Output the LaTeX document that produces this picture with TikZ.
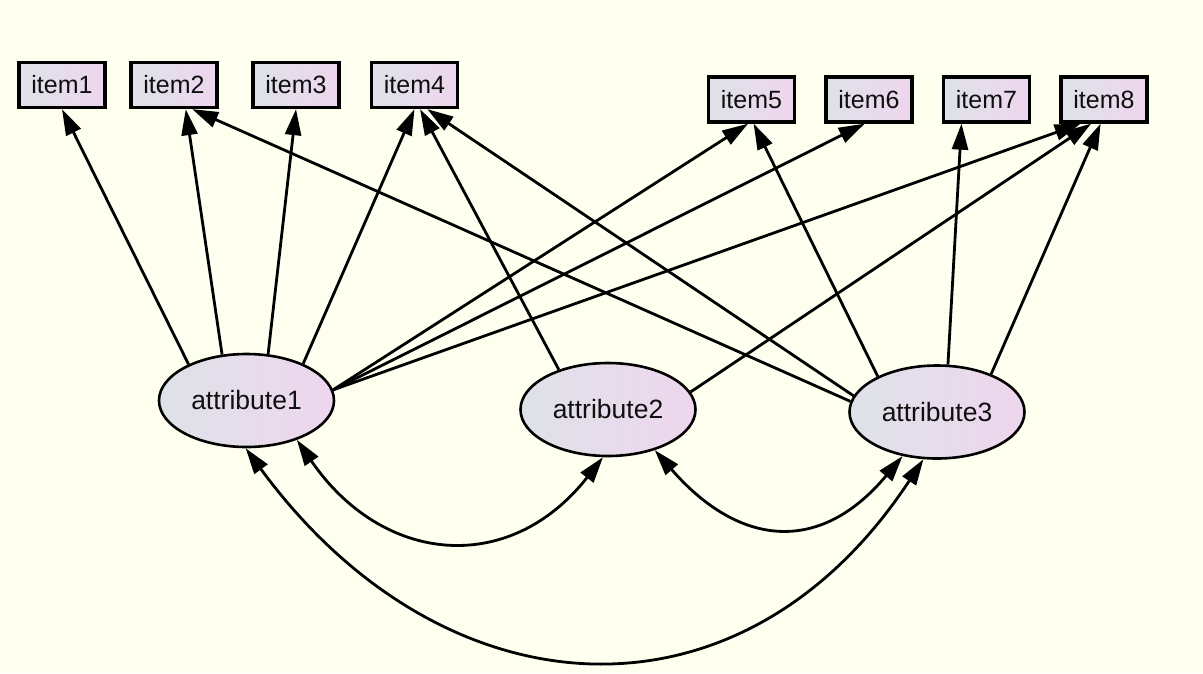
\documentclass[tikz,border=0pt]{standalone}
\usepackage{fontspec}
\setmainfont{Liberation Sans}
\usetikzlibrary{shapes.geometric,arrows.meta}
\definecolor{bgcol}{RGB}{255,255,240}
\definecolor{nodeL}{RGB}{222,226,232}
\definecolor{nodeR}{RGB}{238,214,238}
\definecolor{txt}{RGB}{15,15,15}
\tikzset{
  itembox/.style={draw=black, line width=3.3pt, left color=nodeL, right color=nodeR,
    minimum width=86pt, minimum height=45pt, inner sep=0pt, text=txt,
    font=\fontsize{25}{30}\selectfont},
  attr/.style={ellipse, draw=black, line width=2.6pt, left color=nodeL, right color=nodeR,
    minimum width=175pt, minimum height=93pt, inner sep=0pt, text=txt,
    font=\fontsize{26.5}{30}\selectfont},
  path/.style={line width=2.8pt, -{Triangle[length=26pt,width=16pt]}},
  cov/.style={line width=2.8pt, {Triangle[length=26pt,width=16pt]}-{Triangle[length=26pt,width=16pt]}}
}
\begin{document}
\begin{tikzpicture}[x=1pt,y=-1pt]
\fill[bgcol] (0,0) rectangle (1203,673);
\useasboundingbox (0,0) rectangle (1203,673);
% items
\node[itembox] (i1) at (62,85) {item1};
\node[itembox] (i2) at (174,85) {item2};
\node[itembox] (i3) at (296,85) {item3};
\node[itembox] (i4) at (414.5,85) {item4};
\node[itembox] (i5) at (751.5,99.5) {item5};
\node[itembox] (i6) at (869,99.5) {item6};
\node[itembox] (i7) at (986.5,99.5) {item7};
\node[itembox] (i8) at (1104,99.5) {item8};
% attributes
\node[attr] (a1) at (246.5,400.5) {attribute1};
\node[attr] (a2) at (608,409.5) {attribute2};
\node[attr] (a3) at (937,412) {attribute3};
% paths
\draw[path] (a1.148) -- (i1.south);
\draw[path] (a1.118) -- (i2.-64);
\draw[path] (a1.65) -- (i3.south);
\draw[path] (a1.33) -- (i4.south);
\draw[path] (a1.7) -- (i5.-98);
\draw[path] (a1.7) -- (i6.-100);
\draw[path] (a1.7) -- (i8.-134);
\draw[path] (a2.141) -- (i4.-77);
\draw[path] (a2.12) -- (i8.-118);
\draw[path] (a3.173) -- (i2.-53);
\draw[path] (a3.169) -- (i4.-62);
\draw[path] (a3.149) -- (i5.-85);
\draw[path] (a3.77) -- (i7.-136);
\draw[path] (a3.35) -- (i8.-98);
% covariances
\draw[cov] (a1.-38) .. controls (382,564) and (509,577) .. (a2.-96);
\draw[cov] (a2.-41) .. controls (739,547) and (820,555) .. (a3.-128);
\draw[cov] (a1.-91) .. controls (442,716) and (740,738) .. (a3.-106);
\end{tikzpicture}
\end{document}
